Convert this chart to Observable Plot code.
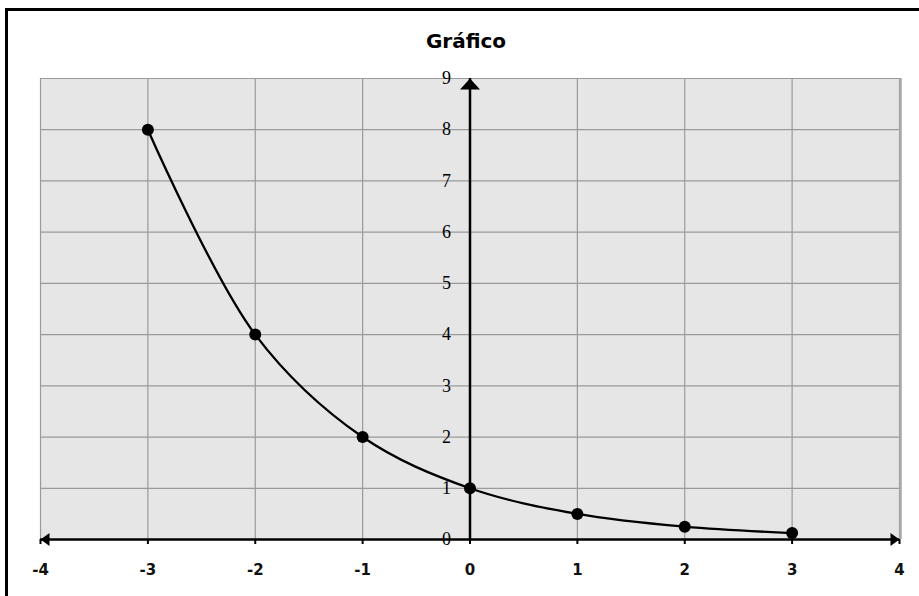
<!DOCTYPE html>
<html>
<head>
<meta charset="utf-8">
<script src="https://cdn.jsdelivr.net/npm/d3@7"></script>
<script src="https://cdn.jsdelivr.net/npm/@observablehq/plot@0.6"></script>
<style>
  html, body { margin: 0; padding: 0; background: #fff; overflow: hidden; }
  #wrap { position: relative; width: 919px; height: 596px; overflow: hidden; }
  #border { position: absolute; left: 5px; top: 8px; width: 1000px; height: 1000px;
            border: 3px solid #000; box-sizing: border-box; pointer-events: none; }
  #title { position: absolute; left: 0; top: 0; width: 932px; height: 60px;
           text-align: center; font: bold 20px "DejaVu Sans", sans-serif; line-height: 82px; color: #000; }
  #chart { position: absolute; left: 0; top: 60px; }
</style>
</head>
<body>
<div id="wrap">
  <div id="title">Gráfico</div>
  <div id="chart"></div>
  <div id="border"></div>
</div>
<script>
// data
const xValues = [-3, -2, -1, 0, 1, 2, 3];
const yValues = [8, 4, 2, 1, 0.5, 0.25, 0.125];
const xTicks = [-4, -3, -2, -1, 0, 1, 2, 3, 4];
const yTicks = [0, 1, 2, 3, 4, 5, 6, 7, 8, 9];
const xDomain = [-4, 4];
const yDomain = [0, 9];

const points = xValues.map((x, i) => ({x, y: yValues[i]}));

// arrowhead symbol factory: tip at origin, pointing up
function arrowHead(w, h) {
  return {
    draw(context) {
      context.moveTo(0, 0);
      context.lineTo(-w / 2, h);
      context.lineTo(w / 2, h);
      context.closePath();
    }
  };
}

const axisEnds = [
  {x: xDomain[1], y: yDomain[0], rot: 90, kind: "h"},
  {x: xDomain[0], y: yDomain[0], rot: -90, kind: "h"},
  {x: 0, y: yDomain[1], rot: 0, kind: "v"}
];

const chart = Plot.plot({
  width: 919,
  height: 536,
  marginLeft: 40,
  marginRight: 20,
  marginTop: 18,
  marginBottom: 57,
  x: {domain: xDomain},
  y: {domain: yDomain},
  style: {background: "transparent"},
  marks: [
    Plot.frame({fill: "#e6e6e6", stroke: null}),
    Plot.gridX(xTicks, {stroke: "#9a9a9a", strokeOpacity: 1, strokeWidth: 1.2}),
    Plot.gridY(yTicks, {stroke: "#9a9a9a", strokeOpacity: 1, strokeWidth: 1.2}),
    Plot.ruleX([xDomain[1]], {stroke: "#a8a8a8", strokeWidth: 2.5, dx: 1}),
    Plot.axisX({ticks: xTicks, tickSize: 5, stroke: "#000", strokeWidth: 2,
                label: null, tickFormat: () => ""}),
    Plot.axisY({ticks: [], label: null}),
    Plot.ruleY([0], {stroke: "#000", strokeWidth: 2.5}),
    Plot.ruleX([0], {y1: yDomain[0], y2: yDomain[1], stroke: "#000", strokeWidth: 2.5}),
    Plot.dot(axisEnds.filter(d => d.kind === "h"), {x: "x", y: "y", rotate: "rot",
             symbol: arrowHead(13, 9), fill: "#000", stroke: null, r: 5}),
    Plot.dot(axisEnds.filter(d => d.kind === "v"), {x: "x", y: "y", rotate: "rot",
             symbol: arrowHead(20, 11), fill: "#000", stroke: null, r: 5}),
    Plot.line(points, {x: "x", y: "y", curve: "catmull-rom", stroke: "#000", strokeWidth: 2.3}),
    Plot.dot(points, {x: "x", y: "y", r: 6, fill: "#000", stroke: null}),
    Plot.text(xTicks, {x: d => d, y: () => 0, text: d => String(d), dy: 31, textAnchor: "middle",
              lineAnchor: "middle", fontFamily: "DejaVu Sans, sans-serif", fontWeight: "bold",
              fontSize: 15, fill: "#111"}),
    Plot.text(yTicks, {x: () => 0, y: d => d, text: d => String(d), dx: -19, textAnchor: "end",
              fontFamily: "Liberation Serif, serif", fontSize: 18, fill: "#000"})
  ]
});
document.getElementById("chart").appendChild(chart);
</script>
</body>
</html>
